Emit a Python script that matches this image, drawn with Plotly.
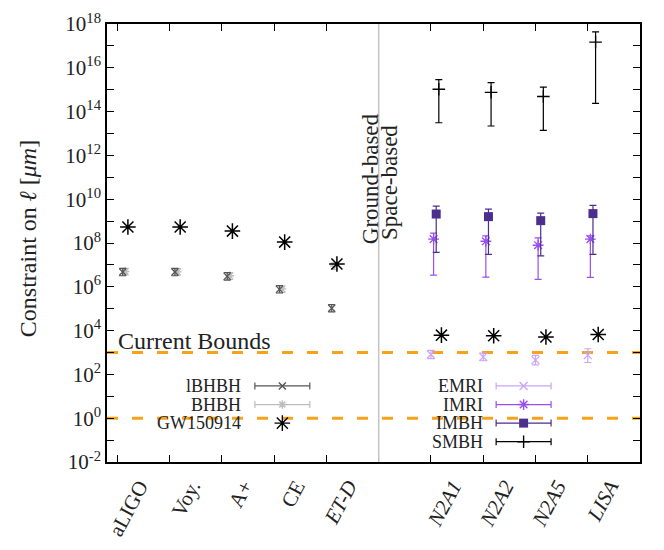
import plotly.graph_objects as go

# ---------------- data ----------------
ground_labels = ["aLIGO", "Voy.", "A+", "CE", "<i>ET-D</i>"]
space_labels = ["<i>N2A1</i>", "<i>N2A2</i>", "<i>N2A5</i>", "<i>LISA</i>"]
x_ground = [1, 2, 3, 4, 5]
x_space = [7, 8, 9, 10]
x_separator = 6

# ground-based detectors
lbhbh = [4.7e6, 4.7e6, 3.0e6, 7.6e5, 1.05e5]
lbhbh_lo = [3.2e6, 3.2e6, 2.0e6, 5.2e5, 7.1e4]
lbhbh_hi = [6.9e6, 6.9e6, 4.4e6, 1.12e6, 1.55e5]

bhbh = [5.0e6, 4.8e6, 3.2e6, 8.0e5, 8.9e6]
bhbh_lo = [3.5e6, 3.4e6, 2.2e6, 5.6e5, 6.2e6]
bhbh_hi = [7.0e6, 6.7e6, 4.5e6, 1.1e6, 1.25e7]

gw_ground = [5.4e8, 5.4e8, 3.5e8, 1.1e8, 1.1e7]

# space-based detectors
emri = [8.1e2, 6.3e2, 4.5e2, 7.6e2]
emri_lo = [5.2e2, 4.2e2, 2.7e2, 3.5e2]
emri_hi = [1.26e3, 9.5e2, 7.4e2, 1.48e3]

imri = [1.5e8, 1.2e8, 7.9e7, 1.5e8]
imri_lo = [3.4e6, 2.75e6, 2.2e6, 2.7e6]
imri_hi = [2.8e8, 2.1e8, 1.7e8, 2.1e8]

imbh = [2.1e9, 1.6e9, 1.05e9, 2.2e9]
imbh_lo = [3.7e7, 3.0e7, 2.6e7, 3.0e7]
imbh_hi = [4.8e9, 3.5e9, 2.3e9, 5.2e9]

smbh = [1.05e15, 7.6e14, 4.9e14, 1.5e17]
smbh_lo = [3.1e13, 2.2e13, 1.4e13, 2.4e14]
smbh_hi = [2.9e15, 2.1e15, 1.3e15, 4.4e17]

gw_space = [6.2e3, 5.8e3, 5.1e3, 6.6e3]

current_bounds = [1e3, 1e0]
y_decades = list(range(-2, 19))

# ---------------- styling ----------------
FONT = "Liberation Serif"
TXT = "#222222"
C_LBHBH = "#555555"
C_BHBH = "#bdbdbd"
C_EMRI = "#caa6f4"
C_IMRI = "#9a4ef0"
C_IMBH = "#4b2f8e"
C_ORANGE = "#f7a21b"


def shift(xs, d):
    return [x + d for x in xs]


def errs(v, lo, hi):
    return dict(type="data", symmetric=False,
                array=[h - a for a, h in zip(v, hi)],
                arrayminus=[a - l for a, l in zip(v, lo)])


fig = go.Figure()

# current bounds (dashed orange)
for b in current_bounds:
    fig.add_trace(go.Scatter(x=[0.8, 11], y=[b, b], mode="lines",
                             line=dict(color=C_ORANGE, width=3, dash="11px,14px"),
                             hoverinfo="skip", showlegend=False))

# separator
fig.add_trace(go.Scatter(x=[x_separator, x_separator], y=[1e-3, 1e19], mode="lines",
                         line=dict(color="#c4c4c4", width=1.5), showlegend=False))


def series(xs, ys, lo, hi, color, symbol, size, lw=1.3, cap=3.5):
    e = None
    if lo is not None:
        e = errs(ys, lo, hi)
        e.update(color=color, thickness=1.2, width=cap)
    mk = dict(symbol=symbol, size=size, color=color,
              line=dict(color=color, width=lw))
    fig.add_trace(go.Scatter(x=xs, y=ys, mode="markers", marker=mk,
                             error_y=e, showlegend=False))


series(shift(x_ground, 0.15), bhbh, bhbh_lo, bhbh_hi, C_BHBH, "asterisk-open", 7)
series(shift(x_ground, 0.10), lbhbh, lbhbh_lo, lbhbh_hi, C_LBHBH, "x-thin-open", 7)
series(shift(x_ground, 0.20), gw_ground, None, None, "#000000", "asterisk-open", 13, lw=1.5)

series(shift(x_space, 0.0), emri, emri_lo, emri_hi, C_EMRI, "x-thin-open", 8)
series(shift(x_space, 0.05), imri, imri_lo, imri_hi, C_IMRI, "asterisk-open", 9)
series(shift(x_space, 0.10), imbh, imbh_lo, imbh_hi, C_IMBH, "square", 9, lw=0)
series(shift(x_space, 0.15), smbh, smbh_lo, smbh_hi, "#000000", "cross-thin-open", 9)
series(shift(x_space, 0.20), gw_space, None, None, "#000000", "asterisk-open", 13, lw=1.5)

# ---------------- legends (overlay pixel-like axes) ----------------
left_keys = [("lBHBH", C_LBHBH, "x-thin-open", 7, True),
             ("BHBH", C_BHBH, "asterisk-open", 7, True),
             ("GW150914", "#000000", "asterisk-open", 13, False)]
right_keys = [("EMRI", C_EMRI, "x-thin-open", 8, True),
              ("IMRI", C_IMRI, "asterisk-open", 9, True),
              ("IMBH", C_IMBH, "square", 9, True),
              ("SMBH", "#000000", "cross-thin-open", 9, True)]

annotations = []


def legend_block(keys, text_right, sample_mid, y0, dy):
    for i, (name, col, sym, sz, bar) in enumerate(keys):
        yy = y0 + i * dy
        fig.add_trace(go.Scatter(
            x=[sample_mid], y=[yy], mode="markers", xaxis="x2", yaxis="y2",
            marker=dict(symbol=sym, size=sz, color=col,
                        line=dict(color=col, width=0 if sym == "square" else 1.4)),
            error_x=dict(type="constant", value=27.5, color=col, thickness=1.2, width=3.5,
                         visible=bar),
            showlegend=False))
        annotations.append(dict(x=text_right, y=yy, xref="x2", yref="y2", text=name,
                                showarrow=False, xanchor="right", yanchor="middle",
                                height=18, borderpad=0,
                                font=dict(family=FONT, size=18, color=TXT)))


legend_block(left_keys, 242, 282, 386, 19.3)
legend_block(right_keys, 484, 523.5, 386, 19.3)

annotations += [
    dict(x=116, y=339, xref="x2", yref="y2", text="Current Bounds", showarrow=False,
         xanchor="left", yanchor="middle", font=dict(family=FONT, size=24, color=TXT)),
    dict(x=371, y=171, xref="x2", yref="y2", text="Ground-based", showarrow=False,
         textangle=-90, xanchor="center", yanchor="middle",
         font=dict(family=FONT, size=23, color=TXT)),
    dict(x=390, y=175, xref="x2", yref="y2", text="Space-based", showarrow=False,
         textangle=-90, xanchor="center", yanchor="middle",
         font=dict(family=FONT, size=23, color=TXT)),
    dict(x=-0.149, y=0.51, xref="paper", yref="paper",
         text="Constraint on <i>ℓ</i> [<i>μm</i>]", showarrow=False, textangle=-90,
         xanchor="center", yanchor="middle", font=dict(family=FONT, size=24, color=TXT)),
]

ytext = [("10<sup>%d</sup>" % k) if k % 2 == 0 else "" for k in y_decades]

fig.update_layout(
    width=664, height=550,
    margin=dict(l=106.5, r=24, t=10, b=85),
    paper_bgcolor="white", plot_bgcolor="white",
    font=dict(family=FONT, size=21, color=TXT),
    showlegend=False,
    annotations=annotations,
    xaxis=dict(range=[0.8, 11], tickvals=x_ground + x_space,
               ticktext=ground_labels + space_labels,
               tickangle=-62, ticks="inside", ticklen=7, tickcolor="black",
               showline=True, linecolor="black", linewidth=1.5, mirror="ticks",
               showgrid=False, zeroline=False, tickfont=dict(size=21),
               ticklabelshift=22, ticklabelstandoff=2),
    yaxis=dict(type="log", range=[-2.0005, 18.0005], tickvals=[10.0 ** k for k in y_decades],
               ticktext=ytext, ticks="inside", ticklen=7, tickcolor="black",
               showline=True, linecolor="black", linewidth=1.5, mirror="ticks",
               showgrid=False, zeroline=False, tickfont=dict(size=21),
               ticklabeloverflow="allow"),
    xaxis2=dict(range=[106.5, 640], overlaying="x", visible=False, fixedrange=True),
    yaxis2=dict(range=[465, 10], overlaying="y", visible=False, fixedrange=True),
)

fig.write_html("out.html", config={"displayModeBar": False},
               post_script="document.body.style.margin='0px';")
